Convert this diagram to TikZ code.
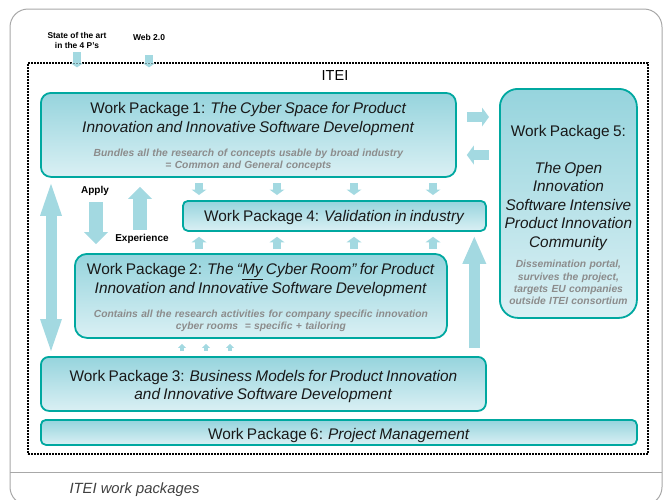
\documentclass[tikz,border=0pt]{standalone}
\usepackage{fontspec}
\setmainfont{Liberation Sans}
\usepackage{tikz}
\usetikzlibrary{calc,arrows.meta}
\definecolor{wpline}{RGB}{0,168,160}
\definecolor{wptop}{RGB}{150,212,221}
\definecolor{wpbottom}{RGB}{218,240,244}
\definecolor{wparrow}{RGB}{163,217,225}
\definecolor{wpgrey}{RGB}{140,140,140}
\definecolor{frameclr}{RGB}{168,168,168}
\newcommand{\wptitle}{\fontsize{15.4}{19}\selectfont}
\newcommand{\wpsub}{\fontsize{10.3}{11.5}\selectfont\bfseries\itshape\color{wpgrey}}

\begin{document}
\begin{tikzpicture}[x=1pt, y=-1pt,
        wpbox/.style={draw=wpline, line width=1.8pt, top color=wptop, bottom color=wpbottom,
            inner sep=0pt, align=center, anchor=north west, text=black!90},
        fat/.style n args={3}{draw=wparrow, line width=#1,
            arrows={-Triangle[width=#2, length=#3, line width=0pt]}},
        fatboth/.style n args={3}{draw=wparrow, line width=#1,
            arrows={Triangle[width=#2, length=#3, line width=0pt]-Triangle[width=#2, length=#3, line width=0pt]}},
        lbl/.style={font=\fontsize{10}{12}\selectfont\bfseries, inner sep=0pt}]

        \useasboundingbox (0,0) rectangle (663,499);

        \draw[frameclr, line width=1pt, rounded corners=18pt] (10,9) rectangle (662,505);
        \draw[frameclr, line width=1pt] (10,472) -- (662,472);
        \node[font=\fontsize{14.8}{16}\selectfont\itshape, text=black!75, anchor=west] (caption) at (66,490) {ITEI work packages};

        \node[draw, line width=1.2pt, dash pattern=on 2pt off 1pt, minimum width=620pt, minimum height=391pt, inner sep=0pt] (itei) at (338,258.5) {};
        \node[font=\fontsize{14.5}{16}\selectfont] (iteilabel) at (335,76) {ITEI};

        \node[font=\fontsize{8.4}{10}\selectfont\bfseries, align=center, inner sep=0pt] (soa) at (77,40) {State of the art\\in the 4 P's};
        \node[font=\fontsize{8.5}{10}\selectfont\bfseries, inner sep=0pt] (web) at (149,37) {Web 2.0};

        \node[wpbox, rounded corners=10pt, minimum width=415pt, text width=415pt, text height=20.5pt, text depth=63.5pt] (wp1) at (40,92)
            {{\wptitle Work Package 1: \textit{The Cyber Space for Product}\\\textit{Innovation and Innovative Software Development}\par}\vspace{13pt}
             {\wpsub Bundles all the research of concepts usable by broad industry\\= Common and General concepts\par}};

        \node[wpbox, rounded corners=18pt, minimum width=137pt, text width=137pt, text height=47.5pt, text depth=181.5pt] (wp5) at (499,88)
            {{\fontsize{15.4}{18.5}\selectfont Work Package 5:\\[18.5pt]\textit{The Open}\\\textit{Innovation}\\\textit{Software Intensive}\\\textit{Product Innovation}\\\textit{Community}\par}\vspace{8.2pt}
             {\wpsub\fontsize{10.3}{12.3}\selectfont Dissemination portal,\\survives the project,\\targets EU companies\\outside ITEI consortium\par}};

        \node[wpbox, rounded corners=5pt, minimum width=303pt, text width=303pt, text height=20.5pt, text depth=9.5pt] (wp4) at (182,200)
            {\wptitle Work Package 4: \textit{Validation in industry}};

        \node[wpbox, rounded corners=12pt, minimum width=372pt, text width=372pt, text height=20.5pt, text depth=63.5pt] (wp2) at (74,253)
            {{\wptitle Work Package 2: \textit{The “\underline{My} Cyber Room” for Product}\\\textit{Innovation and Innovative Software Development}\par}\vspace{13pt}
             {\wpsub Contains all the research activities for company specific innovation\\cyber rooms \ = specific + tailoring\par}};

        \node[wpbox, rounded corners=8pt, minimum width=445pt, text width=445pt, text height=24.5pt, text depth=29.5pt] (wp3) at (40,356)
            {{\fontsize{15.4}{18}\selectfont Work Package 3: \textit{Business Models for Product Innovation}\\\textit{and Innovative Software Development}\par}};

        \node[wpbox, rounded corners=5pt, minimum width=596pt, text width=596pt, text height=19.5pt, text depth=5.5pt] (wp6) at (40,419)
            {\wptitle Work Package 6: \textit{Project Management}};

        \node[lbl] (apply) at (95,191) {Apply};
        \node[lbl] (experience) at (142,239) {Experience};

        \draw[fat={8pt}{12pt}{4pt}] ([yshift=-4pt]soa.south) -- ($(soa.south |- itei.north)+(0,5)$);
        \draw[fat={8pt}{12pt}{4pt}] ([yshift=-15pt]web.south) -- ($(web.south |- itei.north)+(0,5)$);

        \draw[fat={10pt}{19pt}{7pt}] ($(wp1.north east)+(10,25)$) -- ($(wp5.north west |- wp1.north east)+(-10,25)$);
        \draw[fat={10pt}{19pt}{7pt}] ($(wp5.north west |- wp1.north east)+(-10,63)$) -- ($(wp1.north east)+(10,63)$);

        \foreach \d in {17, 95, 172, 251} {
            \draw[fat={8pt}{15pt}{5.5pt}] ($(wp4.north west |- wp1.south)+(\d,5)$) -- ($(wp4.north west)+(\d,-5)$);
            \draw[fat={8pt}{15pt}{5.5pt}] ($(wp4.north west |- wp2.north)+(\d,-4)$) -- ($(wp4.south west)+(\d,5)$);
        }

        \foreach \d in {108, 132, 156} {
            \draw[fat={3.5pt}{8pt}{4pt}] ($(wp2.south west |- wp3.north)+(\d,-5)$) -- ($(wp2.south west)+(\d,5)$);
        }

        \draw[fat={14pt}{24pt}{12pt}] ($(wp1.south west)+(56,24)$) -- ($(wp2.north west)+(22,-9)$);
        \draw[fat={14pt}{24pt}{12pt}] ($(wp2.north west)+(66,-23)$) -- ($(wp1.south west)+(100,9)$);

        \draw[fatboth={11pt}{22pt}{32pt}] ($(wp1.south west)+(11,6)$) -- ($(wp3.north west)+(11,-5)$);

        \draw[fat={11pt}{24pt}{27pt}] ($(wp3.north east)+(-12.5,-8)$) -- ($(wp4.south east)+(-12.5,5)$);

    \end{tikzpicture}
\end{document}
